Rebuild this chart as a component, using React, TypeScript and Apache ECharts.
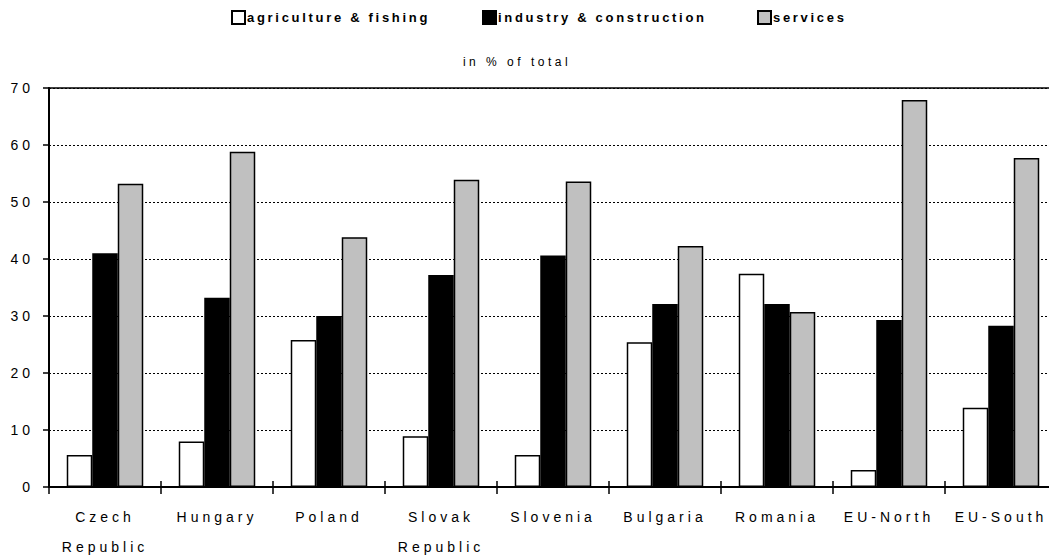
import React, { useEffect, useRef } from "react";
import * as echarts from "echarts";

const categories = ["Czech\nRepublic", "Hungary", "Poland", "Slovak\nRepublic", "Slovenia", "Bulgaria", "Romania", "EU-North", "EU-South"];
const agriculture = [5.6, 8.0, 25.8, 8.9, 5.6, 25.4, 37.4, 3.0, 13.9];
const industry = [41.0, 33.2, 30.0, 37.2, 40.6, 32.1, 32.1, 29.3, 28.3];
const services = [53.2, 58.8, 43.8, 53.9, 53.6, 42.3, 30.7, 67.9, 57.7];
const seriesNames = ["agriculture & fishing", "industry & construction", "services"];
const yTicks = { min: 0, max: 70, interval: 10 };

const FONT = "'Liberation Sans', Arial, sans-serif";

const css = `
#chart-root text { letter-spacing: 3px; }
#chart-root text[style*="14px"] { letter-spacing: 4px; }
#chart-root text[style*="12px"] { letter-spacing: 3.5px; }
#chart-root text[style*="bold"] { letter-spacing: 2.7px; }
`;

export default function App() {
  const ref = useRef<HTMLDivElement>(null);
  useEffect(() => {
    if (!ref.current) return;
    const chart = echarts.init(ref.current, null, { renderer: "svg" });
    const barBase = {
      type: "bar" as const,
      barWidth: 25.5,
      barGap: "0%",
      xAxisIndex: 0,
      yAxisIndex: 0,
    };
    const legendCommon = {
      top: 5,
      itemWidth: 13,
      itemHeight: 13,
      icon: "rect",
      textStyle: { fontFamily: FONT, fontSize: 13, fontWeight: "bold" as const, color: "#000", padding: [0, 0, 0, -3] },
      selectedMode: false,
    };
    chart.setOption({
      animation: false,
      backgroundColor: "#fff",
      textStyle: { fontFamily: FONT },
      title: {
        text: "in % of total",
        left: 512,
        top: 51,
        textAlign: "center",
        textStyle: { fontFamily: FONT, fontSize: 12, fontWeight: "normal", color: "#000" },
      },
      legend: [
        { ...legendCommon, left: 226, data: [seriesNames[0]] },
        { ...legendCommon, left: 477, data: [seriesNames[1]] },
        { ...legendCommon, left: 752, data: [seriesNames[2]] },
      ],
      grid: { left: 49, right: -8, top: 88, bottom: 71, containLabel: false, outerBoundsMode: "none" },
      xAxis: [
        {
          type: "category",
          data: categories,
          position: "bottom",
          axisLine: { show: true, lineStyle: { color: "#000", width: 2 } },
          axisTick: { show: true, length: 7, interval: 0, lineStyle: { color: "#000", width: 1.5 } },
          axisLabel: {
            interval: 0,
            margin: 15,
            fontFamily: FONT,
            fontSize: 14,
            color: "#000",
            lineHeight: 30,
          },
        },
        {
          type: "category",
          data: categories,
          position: "bottom",
          axisLine: { show: false },
          axisTick: { show: true, inside: true, length: 6, interval: 0, lineStyle: { color: "#000", width: 1.5 } },
          axisLabel: { show: false },
        },
        {
          type: "category",
          data: categories,
          position: "top",
          axisLine: { show: true, lineStyle: { color: "#000", width: 1.5 } },
          axisTick: { show: false },
          axisLabel: { show: false },
        },
      ],
      yAxis: {
        type: "value",
        min: yTicks.min,
        max: yTicks.max,
        interval: yTicks.interval,
        axisLine: { show: true, lineStyle: { color: "#000", width: 2 } },
        axisTick: { show: true, length: 6, lineStyle: { color: "#000", width: 1.5 } },
        axisLabel: { margin: 15, fontFamily: FONT, fontSize: 14, color: "#000" },
        splitLine: { show: true, lineStyle: { color: "#000", width: 1, type: [2, 2] } },
      },
      series: [
        { ...barBase, name: seriesNames[0], data: agriculture, itemStyle: { color: "#ffffff", borderColor: "#000", borderWidth: 1.5 } },
        { ...barBase, name: seriesNames[1], data: industry, itemStyle: { color: "#000000", borderColor: "#000", borderWidth: 1.5 } },
        { ...barBase, name: seriesNames[2], data: services, itemStyle: { color: "#c0c0c0", borderColor: "#000", borderWidth: 1.5 } },
      ],
    });
    return () => chart.dispose();
  }, []);
  return (
    <>
      <style>{css}</style>
      <div
        id="chart-root"
        ref={ref}
        style={{ position: "absolute", left: 0, top: 0, width: 1049, height: 558 }}
      />
    </>
  );
}
